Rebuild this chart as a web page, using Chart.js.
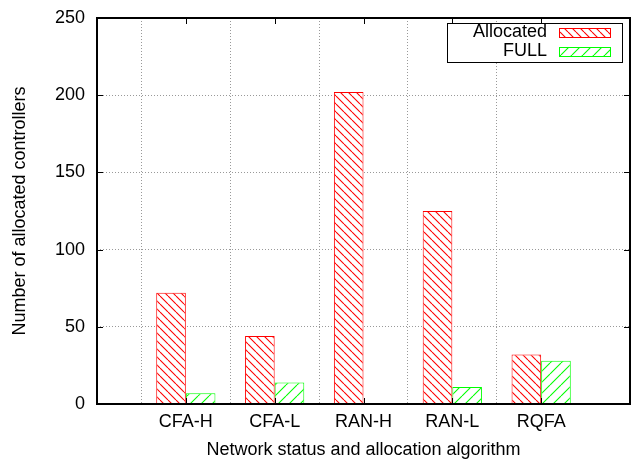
<!DOCTYPE html>
<html><head><meta charset="utf-8">
<script src="https://cdn.jsdelivr.net/npm/chart.js@4.4.0/dist/chart.umd.min.js"></script>
<style>html,body{margin:0;padding:0;background:#fff}</style>
</head><body>
<canvas id="c" width="638" height="460"></canvas>
<script>
const categories = ['CFA-H', 'CFA-L', 'RAN-H', 'RAN-L', 'RQFA'];
const allocated = [72, 44, 202, 125, 32];
const full = [7, 14, 0, 11, 28];
const seriesNames = ['Allocated', 'FULL'];
const yTicks = [0, 50, 100, 150, 200, 250];
const xTitle = 'Network status and allocation algorithm';
const yTitle = 'Number of allocated controllers';

const FONT = { family: '"Liberation Sans", Arial, Helvetica, sans-serif', size: 18 };
Chart.defaults.color = '#000';

function hatch(color, period, dir) {
  const c = document.createElement('canvas');
  c.width = period; c.height = period;
  const g = c.getContext('2d');
  g.fillStyle = '#fff'; g.fillRect(0, 0, period, period);
  g.strokeStyle = color; g.lineWidth = 1.1;
  g.beginPath();
  for (let k = -1; k <= 1; k++) {
    if (dir === '\\') { g.moveTo(k * period, 0); g.lineTo(k * period + period, period); }
    else { g.moveTo(k * period, period); g.lineTo(k * period + period, 0); }
  }
  g.stroke();
  return g.createPattern(c, 'repeat');
}

const colors = ['#ff0000', '#00ff00'];
const patterns = [hatch(colors[0], 8, '\\'), hatch(colors[1], 11, '/')];

const framePlugin = {
  id: 'frame',
  afterDatasetsDraw(chart) {
    const { ctx, chartArea: a, scales: { x, y } } = chart;
    ctx.save();
    ctx.strokeStyle = '#000'; ctx.lineWidth = 1;
    ctx.beginPath();
    yTicks.forEach(v => {
      const py = Math.round(y.getPixelForValue(v)) + 0.5;
      ctx.moveTo(a.left, py); ctx.lineTo(a.left + 6, py);
      ctx.moveTo(a.right, py); ctx.lineTo(a.right - 6, py);
    });
    categories.forEach((c, i) => {
      const px = Math.round(x.getPixelForValue(i)) + 0.5;
      ctx.moveTo(px, a.top); ctx.lineTo(px, a.top + 6);
      ctx.moveTo(px, a.bottom); ctx.lineTo(px, a.bottom - 6);
    });
    ctx.stroke();
    ctx.lineWidth = 2;
    ctx.strokeRect(Math.round(a.left), Math.round(a.top), Math.round(a.right - a.left), Math.round(a.bottom - a.top));

    // legend (gnuplot style: text left, sample right)
    const bx = a.right - 183, by = a.top + 5, bw = 175, bh = 39;
    ctx.fillStyle = '#fff';
    ctx.fillRect(bx, by, bw, bh);
    ctx.lineWidth = 1;
    ctx.strokeRect(bx + 0.5, by + 0.5, bw, bh);
    ctx.font = FONT.size + 'px ' + FONT.family;
    ctx.textAlign = 'right'; ctx.textBaseline = 'middle';
    chart.data.datasets.forEach((ds, i) => {
      const cy = a.top + 13.7 + i * 19.1;
      ctx.fillStyle = '#000';
      ctx.fillText(ds.label, a.right - 83, cy);
      const sy = Math.round(a.top + 10 + i * 19);
      ctx.fillStyle = ds.backgroundColor;
      ctx.fillRect(a.right - 71, sy, 51, 9);
      ctx.strokeStyle = ds.borderColor;
      ctx.strokeRect(a.right - 71 + 0.5, sy + 0.5, 51, 9);
    });
    ctx.restore();
  }
};

new Chart(document.getElementById('c'), {
  type: 'bar',
  data: {
    datasets: [
      { label: seriesNames[0], data: allocated.map((v, i) => ({ x: i, y: v })),
        backgroundColor: patterns[0], borderColor: colors[0], borderWidth: 1 },
      { label: seriesNames[1], data: full.map((v, i) => ({ x: i, y: v })),
        backgroundColor: patterns[1], borderColor: colors[1], borderWidth: 1 }
    ]
  },
  options: {
    responsive: false,
    animation: false,
    layout: { padding: { top: 18, right: 8, bottom: 0, left: 0 } },
    datasets: { bar: { categoryPercentage: 2 / 3, barPercentage: 1 } },
    plugins: { legend: { display: false }, tooltip: { enabled: false } },
    scales: {
      x: {
        type: 'linear', min: -1, max: 5, offset: false,
        ticks: { stepSize: 1, autoSkip: false, padding: 7, font: FONT,
                 callback: v => (categories[v] !== undefined ? categories[v] : '') },
        grid: { drawTicks: false, lineWidth: 1,
                color: c => (c.tick && (c.tick.value < 0 || c.tick.value > categories.length - 1)) ? 'rgba(0,0,0,0)' : '#999' },
        border: { display: false, dash: [1, 2] },
        title: { display: true, text: xTitle, font: Object.assign({}, FONT, { lineHeight: 1 }), padding: { top: 0, bottom: 1 } },
        afterFit: s => { s.height = 56; s.paddingLeft = 0; s.paddingRight = 0; }
      },
      y: {
        min: 0, max: 250,
        ticks: { stepSize: 50, padding: 12, font: FONT },
        grid: { drawTicks: false, lineWidth: 1,
                color: c => (c.tick && (c.tick.value <= 0 || c.tick.value >= 250)) ? 'rgba(0,0,0,0)' : '#999' },
        border: { display: false, dash: [1, 2] },
        title: { display: true, text: yTitle, font: FONT, padding: { top: 9, bottom: 0 } },
        afterFit: s => { s.width = 97; s.paddingTop = 0; s.paddingBottom = 0; }
      }
    }
  },
  plugins: [framePlugin]
});
</script>
</body></html>
